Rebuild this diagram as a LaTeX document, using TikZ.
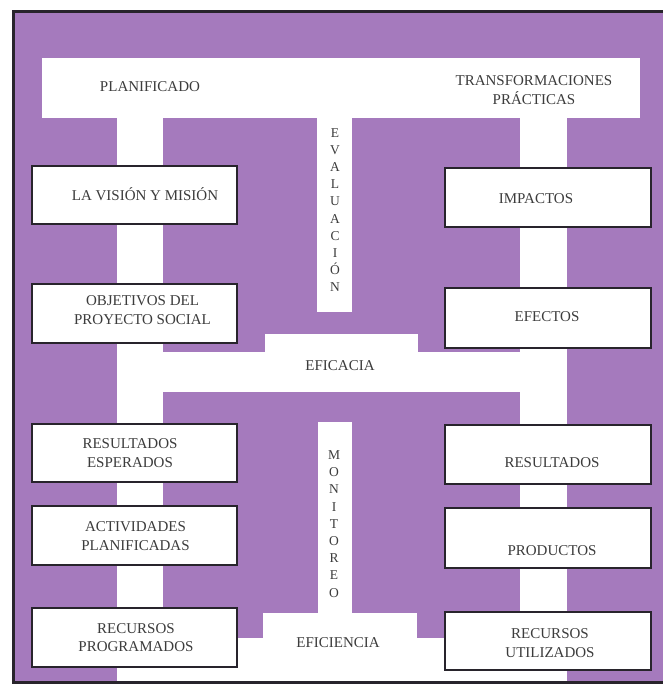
\documentclass[tikz,border=0pt]{standalone}
\usepackage{fontspec}
\setmainfont{Liberation Serif}
\definecolor{lila}{RGB}{165,122,189}
\definecolor{ink}{RGB}{60,60,60}
\definecolor{frame}{RGB}{40,36,44}
\begin{document}
\begin{tikzpicture}[x=1pt,y=-1pt,
  whitearea/.style={fill=white,draw=none},
  stepbox/.style={draw=frame,line width=1.4pt,fill=white,inner sep=0pt},
  lbl/.style={text=ink,align=center,font=\fontsize{15}{18.8}\selectfont,inner sep=0pt},
  vlbl/.style={text=ink,align=center,font=\fontsize{13.5}{17.2}\selectfont,inner sep=0pt}]
\useasboundingbox (0,0) rectangle (663,685);
\fill[white] (0,0) rectangle (663,685);
% purple ground
\fill[lila] (13,12) rectangle (663,682);
\draw[frame,line width=3pt] (663,12) -- (13,12) -- (13,682) -- (663,682);
% white paths
\fill[whitearea] (42,58) rectangle (640,118);
\fill[whitearea] (117,118) rectangle (163,680.5);
\fill[whitearea] (520,118) rectangle (567,680.5);
\fill[whitearea] (317,118) rectangle (352,312);
\fill[whitearea] (265,334) rectangle (418,352.5);
\fill[whitearea] (117,352) rectangle (567,392);
\fill[whitearea] (318,422) rectangle (352,613.5);
\fill[whitearea] (263,613) rectangle (417,638.5);
\fill[whitearea] (117,638) rectangle (567,680.5);
% headings
\node[lbl] (plan) at (150,87) {PLANIFICADO};
\node[lbl] (transf) at (534,90.5) {TRANSFORMACIONES\\PRÁCTICAS};
\node[lbl] (eficacia) at (340,366) {EFICACIA};
\node[lbl] (eficiencia) at (338,643) {EFICIENCIA};
\node[vlbl] (eval) at (335,210) {E\\V\\A\\L\\U\\A\\C\\I\\Ó\\N};
\node[vlbl] (moni) at (334,524) {M\\O\\N\\I\\T\\O\\R\\E\\O};
% left column boxes
\node[stepbox,minimum width=205pt,minimum height=58pt] (vis) at (134.5,195) {};
\node[stepbox,minimum width=205pt,minimum height=59pt] (obj) at (134.5,313.5) {};
\node[stepbox,minimum width=205pt,minimum height=58pt] (resesp) at (134.5,453) {};
\node[stepbox,minimum width=205pt,minimum height=59pt] (act) at (134.5,535.5) {};
\node[stepbox,minimum width=205pt,minimum height=59pt] (recp) at (134.5,637.5) {};
% right column boxes
\node[stepbox,minimum width=206pt,minimum height=59pt] (imp) at (548,197.5) {};
\node[stepbox,minimum width=206pt,minimum height=60pt] (efe) at (548,318) {};
\node[stepbox,minimum width=206pt,minimum height=59pt] (resu) at (548,454.5) {};
\node[stepbox,minimum width=206pt,minimum height=60pt] (prod) at (548,538) {};
\node[stepbox,minimum width=206pt,minimum height=58pt] (recu) at (548,641) {};
% box texts
\node[lbl] (vist) at (145,194) {LA VISIÓN Y MISIÓN};
\node[lbl] (objt) at (142.5,310.5) {OBJETIVOS DEL\\PROYECTO SOCIAL};
\node[lbl] (resespt) at (130,453.5) {RESULTADOS\\ESPERADOS};
\node[lbl] (actt) at (135.5,536) {ACTIVIDADES\\PLANIFICADAS};
\node[lbl] (recpt) at (136,637.5) {RECURSOS\\PROGRAMADOS};
\node[lbl] (impt) at (536,199) {IMPACTOS};
\node[lbl] (efet) at (547,317) {EFECTOS};
\node[lbl] (resut) at (552,463) {RESULTADOS};
\node[lbl] (prodt) at (552,551) {PRODUCTOS};
\node[lbl] (recut) at (550,643) {RECURSOS\\UTILIZADOS};
\end{tikzpicture}
\end{document}
